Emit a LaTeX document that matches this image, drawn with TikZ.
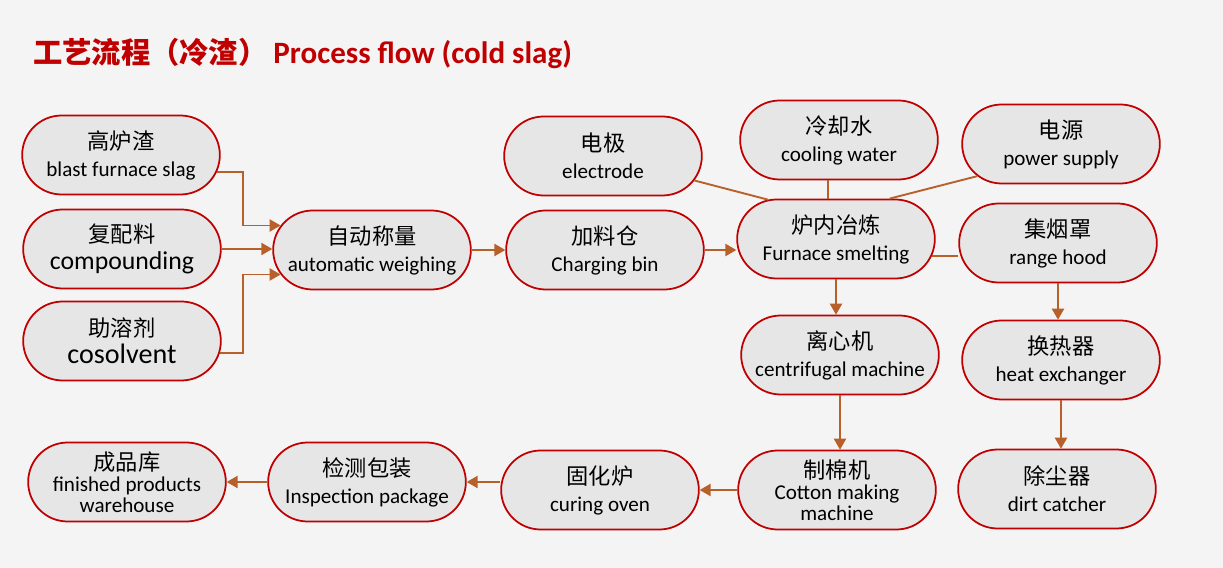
\documentclass[tikz,border=0pt]{standalone}
\usepackage{fontspec}
\setmainfont{Carlito}
\newfontfamily\cjk{Noto Sans CJK SC}
\usetikzlibrary{arrows}
\usetikzlibrary{shapes}

\definecolor{boxred}{RGB}{192,0,0}
\definecolor{boxfill}{RGB}{230,230,230}
\definecolor{bgcol}{RGB}{244,244,244}
\definecolor{linkcol}{RGB}{184,96,42}

\newcommand{\zh}[1]{{\cjk\fontsize{19}{23}\selectfont #1}}

\begin{document}
\begin{tikzpicture}[x = 0.03cm, y = -0.03cm]
	\tikzstyle{stepStyle} = [shape = rounded rectangle, draw = boxred, fill = boxfill, line width = 1.5pt, minimum width = 6cm, minimum height = 2.37cm, inner sep = 1pt, align = center, font = \fontsize{18}{23}\selectfont]
	\tikzstyle{tallStyle} = [stepStyle, font = \fontsize{18}{18}\selectfont]
	\tikzstyle{flowStyle} = [draw = linkcol, line width = 1.6pt, -triangle 60]
	\tikzstyle{linkStyle} = [draw = linkcol, line width = 1.6pt]
	\useasboundingbox (0,0) rectangle (1223,568);
	\fill[bgcol] (0,0) rectangle (1223,568);
	% title
	\node[anchor = west, text = boxred, inner sep = 0pt] (title) at (33,53) {{\cjk\bfseries\fontsize{25}{25}\selectfont 工艺流程（冷渣）}\hspace{0.5em}{\bfseries\fontsize{26.5}{26}\selectfont Process flow (cold slag)}};
	% raw materials
	\node[stepStyle] (slag) at (121,155) {\zh{高炉渣}\\blast furnace slag};
	\node[stepStyle] (compd) at (122,249) {\zh{复配料}\\{\fontsize{22}{23}\selectfont compounding}};
	\node[stepStyle] (solv) at (122,341) {\zh{助溶剂}\\{\fontsize{24}{23}\selectfont cosolvent}};
	\node[stepStyle] (weigh) at (372,250) {\zh{自动称量}\\automatic weighing};
	\node[stepStyle] (bin) at (605,250) {\zh{加料仓}\\Charging bin};
	% furnace and its inputs
	\node[stepStyle] (elec) at (603,156) {\zh{电极}\\electrode};
	\node[stepStyle] (cool) at (839,140) {\zh{冷却水}\\cooling water};
	\node[stepStyle] (pwr) at (1061,144) {\zh{电源}\\power supply};
	\node[stepStyle] (furn) at (836,239) {\zh{炉内冶炼}\\Furnace smelting};
	\node[stepStyle] (hood) at (1058,243) {\zh{集烟罩}\\range hood};
	\node[stepStyle] (cent) at (840,355) {\zh{离心机}\\centrifugal machine};
	\node[stepStyle] (heat) at (1061,360) {\zh{换热器}\\heat exchanger};
	% products
	\node[tallStyle] (cotton) at (837,490) {\zh{制棉机}\\Cotton making\\machine};
	\node[stepStyle] (dirt) at (1057,489) {\zh{除尘器}\\dirt catcher};
	\node[stepStyle] (cure) at (600,490) {\zh{固化炉}\\curing oven};
	\node[stepStyle] (insp) at (367,482) {\zh{检测包装}\\Inspection package};
	\node[tallStyle] (store) at (127,482) {\zh{成品库}\\finished products\\warehouse};
	% connectors
	\draw[flowStyle] (slag.-10) -| ([xshift = -1.14cm]weigh.165) -- (weigh.165);
	\draw[flowStyle] (compd.east) -- (compd.east -| weigh.west);
	\draw[flowStyle] (solv.-7) -| ([xshift = -1.14cm]weigh.195) -- (weigh.195);
	\draw[flowStyle] (weigh.east) -- (bin.west);
	\draw[flowStyle] (bin.east) -- (bin.east -| furn.west);
	\draw[linkStyle] (elec.-15) -- (furn.150);
	\draw[linkStyle] (cool.255) -- (cool.255 |- furn.north);
	\draw[linkStyle] (pwr.201) -- (furn.37);
	\draw[linkStyle] (furn.-10) -- (furn.-10 -| hood.west);
	\draw[flowStyle] (furn.south) -- (furn.south |- cent.north);
	\draw[flowStyle] (cent.south) -- (cent.south |- cotton.north);
	\draw[flowStyle] (hood.south) -- (hood.south |- heat.north);
	\draw[flowStyle] (heat.south) -- (heat.south |- dirt.north);
	\draw[flowStyle] (cotton.west) -- (cotton.west -| cure.east);
	\draw[flowStyle] (cure.west |- insp.east) -- (insp.east);
	\draw[flowStyle] (insp.west) -- (store.east);
\end{tikzpicture}
\end{document}
